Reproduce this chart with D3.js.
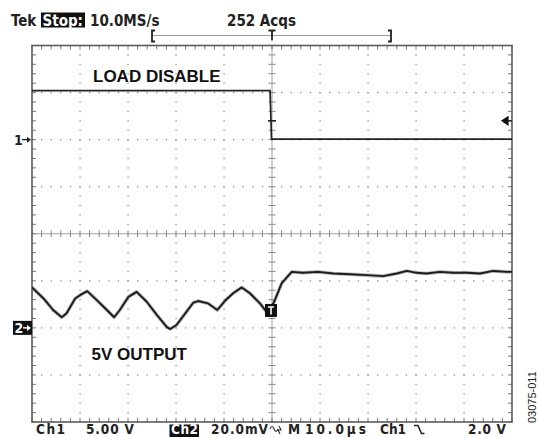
<!DOCTYPE html>
<html>
<head>
<meta charset="utf-8">
<script src="https://cdn.jsdelivr.net/npm/d3@7"></script>
<style>
  html, body { margin: 0; padding: 0; background: #fff; }
  svg { display: block; }
  .ro { font-family: "DejaVu Sans Condensed", "DejaVu Sans", sans-serif; font-weight: bold; font-size: 15px; fill: #222; }
  .ft { font-size: 13.5px; }
  .lbl { font-family: "Liberation Sans", Arial, sans-serif; font-weight: bold; font-size: 17px; fill: #111; }
</style>
</head>
<body>
<svg class="scope" width="539" height="437"></svg>
<script>
// channel 1 (load disable), volts vs time in us
var ch1Time = [-50, -0.4, -0.1, 50];
var ch1Volts = [5.2, 5.2, 0.06, 0.06];

// channel 2 (5V output ripple), mV vs time in us
var ch2Time = [-50, -47.6, -45.6, -43.8, -42.8, -41.0, -40.0, -38.5, -36.5, -34.4, -32.9, -31.7, -29.9, -28.2,
  -26.1, -24.0, -21.9, -21.2, -19.9, -17.8, -16.4, -15.4, -13.3, -11.4, -9.8, -8.1, -6.3, -4.6, -2.5, -0.8,
  0.6, 2.0, 4.1, 6.5, 9.6, 12.8, 16.2, 19.7, 23.2, 26.0, 28.1, 30.1, 32.2, 35.0, 37.8, 40.6, 43.3, 46.1, 48.9, 50];
var ch2mV = [17.2, 12.5, 7.6, 4.5, 6.2, 12.5, 13.9, 15.6, 11.8, 7.6, 4.5, 7.6, 13.2, 15.3,
  11.1, 5.5, 0.3, -0.5, 1.2, 6.9, 10.7, 11.4, 10.4, 7.6, 11.5, 14.7, 17.2, 14.7, 10.4, 5.9,
  11.8, 18.9, 23.8, 23.4, 23.8, 23.1, 22.8, 22.4, 22.0, 23.1, 24.2, 23.4, 23.1, 23.8, 23.4, 23.4, 23.1, 24.2, 23.8, 23.8];

var ch1Scale = 5;     // V/div
var ch2Scale = 20;    // mV/div
var timeScale = 10;   // us/div
var trigLevel = 2.0;  // V

var headerTexts = ['Tek', 'Stop:', '10.0MS/s', '252 Acqs'];
var footerTexts = ['Ch1', '5.00 V', 'Ch2', '20.0mV', 'M', '10.0\u00b5s', 'Ch1', '2.0 V'];
var traceLabels = ['LOAD DISABLE', '5V OUTPUT'];
var figureId = '03075-011';

var svg = d3.select('svg.scope');

var gLeft = 32, gRight = 512, gTop = 45.5, gBottom = 422;

var x = d3.scaleLinear().domain([-5 * timeScale, 5 * timeScale]).range([gLeft, gRight]);
var div = d3.scaleLinear().domain([0, 8]).range([gTop, gBottom]);
// ch1 ground 2 divs below top, ch2 ground 6 divs below top
var y1 = d3.scaleLinear().domain([2 * ch1Scale, -6 * ch1Scale]).range([gTop, gBottom]);
var y2 = d3.scaleLinear().domain([6 * ch2Scale, -2 * ch2Scale]).range([gTop, gBottom]);

var grid = svg.append('g');
var minorX = d3.range(-50, 50.01, timeScale / 5);
var minorY = d3.range(0, 8.001, 0.2);

// dotted graticule lines
[1, 2, 3, 4, 6, 7, 8, 9].forEach(function (i) {
  var gx = x(-50 + i * timeScale);
  grid.selectAll(null).data(minorY.slice(1, -1)).enter().append('rect')
    .attr('x', gx - 0.6).attr('y', function (d) { return div(d) - 0.6; })
    .attr('width', 1.3).attr('height', 1.3).attr('fill', '#8a8a8a');
});
[1, 2, 3, 5, 6, 7].forEach(function (j) {
  var gy = div(j);
  grid.selectAll(null).data(minorX.slice(1, -1)).enter().append('rect')
    .attr('x', function (d) { return x(d) - 0.6; }).attr('y', gy - 0.6)
    .attr('width', 1.3).attr('height', 1.3).attr('fill', '#8a8a8a');
});

// center cross lines with ticks
grid.append('line').attr('x1', x(0)).attr('x2', x(0)).attr('y1', gTop).attr('y2', gBottom)
  .attr('stroke', '#a0a0a0').attr('stroke-width', 1);
grid.append('line').attr('x1', gLeft).attr('x2', gRight).attr('y1', div(4)).attr('y2', div(4))
  .attr('stroke', '#a0a0a0').attr('stroke-width', 1);
grid.selectAll(null).data(minorY).enter().append('line')
  .attr('x1', x(0) - 3.5).attr('x2', x(0) + 3.5)
  .attr('y1', function (d) { return div(d); }).attr('y2', function (d) { return div(d); })
  .attr('stroke', '#888').attr('stroke-width', 1);
grid.selectAll(null).data(minorX).enter().append('line')
  .attr('y1', div(4) - 3.5).attr('y2', div(4) + 3.5)
  .attr('x1', function (d) { return x(d); }).attr('x2', function (d) { return x(d); })
  .attr('stroke', '#888').attr('stroke-width', 1);

// border ticks
grid.selectAll(null).data(minorX).enter().append('path')
  .attr('d', function (d) {
    return 'M' + x(d) + ',' + gTop + 'v4M' + x(d) + ',' + gBottom + 'v-4';
  })
  .attr('stroke', '#777').attr('stroke-width', 1);
grid.selectAll(null).data(minorY).enter().append('path')
  .attr('d', function (d) {
    return 'M' + gLeft + ',' + div(d) + 'h4M' + gRight + ',' + div(d) + 'h-4';
  })
  .attr('stroke', '#777').attr('stroke-width', 1);

grid.append('rect').attr('x', gLeft).attr('y', gTop).attr('width', gRight - gLeft).attr('height', gBottom - gTop)
  .attr('fill', 'none').attr('stroke', '#5a5a5a').attr('stroke-width', 1.6);

// traces
var line1 = d3.line().x(function (d) { return x(d[0]); }).y(function (d) { return y1(d[1]); });
var line2 = d3.line().x(function (d) { return x(d[0]); }).y(function (d) { return y2(d[1]); });

svg.append('path').datum(d3.zip(ch1Time, ch1Volts)).attr('d', line1)
  .attr('fill', 'none').attr('stroke', '#222').attr('stroke-width', 1.7);

svg.append('path').datum(d3.zip(ch2Time, ch2mV)).attr('d', line2)
  .attr('fill', 'none').attr('stroke', '#888').attr('stroke-width', 3.6).attr('stroke-opacity', 0.6)
  .attr('stroke-linejoin', 'round');
svg.append('path').datum(d3.zip(ch2Time, ch2mV)).attr('d', line2)
  .attr('fill', 'none').attr('stroke', '#1c1c1c').attr('stroke-width', 1.9)
  .attr('stroke-linejoin', 'round');

// trigger marks
svg.append('line').attr('x1', x(0) - 4).attr('x2', x(0) + 4)
  .attr('y1', y1(trigLevel)).attr('y2', y1(trigLevel))
  .attr('stroke', '#222').attr('stroke-width', 1.6);
svg.append('path')
  .attr('d', 'M' + (gRight - 10) + ',' + y1(trigLevel) + 'l6,-4v8z M' + (gRight - 5) + ',' + y1(trigLevel) + 'h5')
  .attr('fill', '#111').attr('stroke', '#111').attr('stroke-width', 1.2);

var tBox = svg.append('g').attr('transform', 'translate(' + (x(0) - 1) + ',' + y2(ch2mV[29] + 1.5) + ')');
tBox.append('rect').attr('x', -6).attr('y', -6.5).attr('width', 12).attr('height', 13).attr('fill', '#111');
tBox.append('path').attr('d', 'M-3,-3.5h6M0,-3.5v7.5').attr('stroke', '#fff').attr('stroke-width', 1.6);

// ground markers
svg.append('text').attr('class', 'ro').attr('x', 14).attr('y', y1(0) + 5).style('font-size', '14px').text('1');
svg.append('path').attr('d', 'M22,' + y1(0) + 'h6').attr('stroke', '#222').attr('stroke-width', 1.4);
svg.append('path').attr('d', 'M31,' + y1(0) + 'l-4,-3v6z').attr('fill', '#222');

svg.append('rect').attr('x', 13).attr('y', y2(0) - 7).attr('width', 19).attr('height', 14).attr('fill', '#111');
svg.append('text').attr('class', 'ro').attr('x', 14.5).attr('y', y2(0) + 5).style('font-size', '14px')
  .style('fill', '#fff').text('2');
svg.append('path').attr('d', 'M23,' + y2(0) + 'h5').attr('stroke', '#fff').attr('stroke-width', 1.4);
svg.append('path').attr('d', 'M31,' + y2(0) + 'l-4,-3v6z').attr('fill', '#fff');

// header readout
svg.append('text').attr('class', 'ro').attr('x', 11).attr('y', 25.5).text(headerTexts[0]);
svg.append('rect').attr('x', 41).attr('y', 12.5).attr('width', 44).attr('height', 15).attr('fill', '#111');
svg.append('text').attr('class', 'ro').attr('x', 42.5).attr('y', 25.5).style('fill', '#fff').text(headerTexts[1]);
svg.append('text').attr('class', 'ro').attr('x', 90).attr('y', 25.5).text(headerTexts[2]);
svg.append('text').attr('class', 'ro').attr('x', 227).attr('y', 25.5).text(headerTexts[3]);

// trigger position bracket
svg.append('line').attr('x1', 152).attr('x2', 391).attr('y1', 35.5).attr('y2', 35.5)
  .attr('stroke', '#999').attr('stroke-width', 1);
svg.append('path').attr('d', 'M155,30.5h-3v11h3 M388,30.5h3v11h-3 M268.5,30.5h7 M272,30.5v10')
  .attr('fill', 'none').attr('stroke', '#222').attr('stroke-width', 1.8);

// footer readout
var fy = 433.5;
function foot(i, xPos, len) {
  var t = svg.append('text').attr('class', 'ro ft').attr('x', xPos).attr('y', fy).text(footerTexts[i]);
  if (len) t.attr('textLength', len).attr('lengthAdjust', 'spacing');
  return t;
}
foot(0, 36, 29);
foot(1, 86, 48);
svg.append('rect').attr('x', 169.5).attr('y', 424.5).attr('width', 29.5).attr('height', 12.5).attr('fill', '#111');
foot(2, 171, 27).style('fill', '#fff');
foot(3, 211, 57);
svg.append('path').attr('d', 'M270,429 q2,-5 4,0 t4,0 M279,426 l2,4 l-3,0 l2,4')
  .attr('fill', 'none').attr('stroke', '#333').attr('stroke-width', 1.2);
foot(4, 288);
foot(5, 305, 61);
foot(6, 380, 26);
svg.append('path').attr('d', 'M414,425.5h4l3.5,8h3')
  .attr('fill', 'none').attr('stroke', '#222').attr('stroke-width', 1.6);
foot(7, 468, 38);

// trace annotations
svg.append('text').attr('class', 'lbl').attr('x', 93).attr('y', 82).text(traceLabels[0]);
svg.append('text').attr('class', 'lbl').attr('x', 91.5).attr('y', 359.5).text(traceLabels[1]);

svg.append('text')
  .attr('transform', 'translate(536,423) rotate(-90)')
  .style('font-family', '"Liberation Sans", Arial, sans-serif').style('font-size', '11px').style('fill', '#222')
  .text(figureId);
</script>
</body>
</html>
